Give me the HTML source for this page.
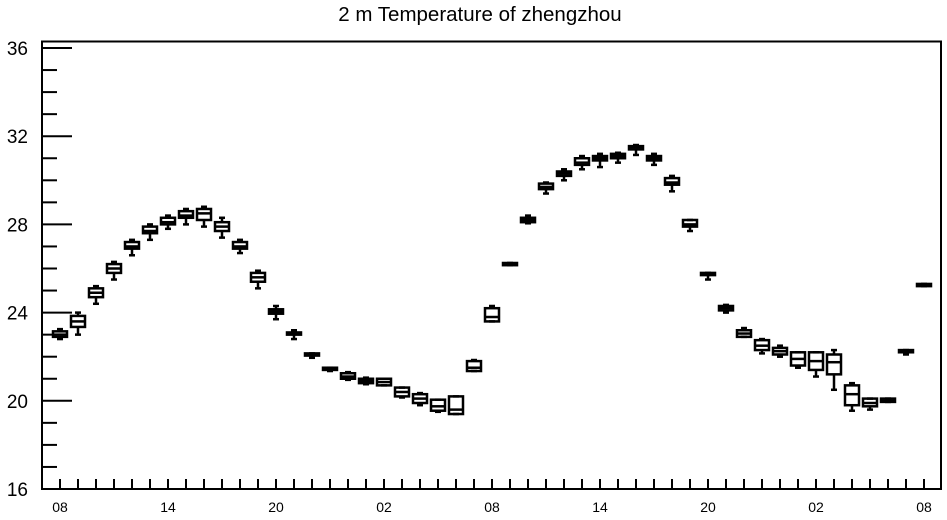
<!DOCTYPE html>
<html><head><meta charset="utf-8"><style>
html,body{margin:0;padding:0;background:#fff}
svg{display:block;font-family:"Liberation Sans",sans-serif}
</style></head><body>
<svg id="chart" width="947" height="520" viewBox="0 0 947 520">
<text x="480" y="21" text-anchor="middle" font-size="20.5">2 m Temperature of zhengzhou</text>
<rect x="42" y="41.5" width="899" height="447.5" fill="none" stroke="#000" stroke-width="2"/>
<g id="axes"></g>
<g id="boxes"></g>
</svg>
<script>
const medians=[23.0,23.6,24.9,26.0,27.0,27.7,28.1,28.4,28.5,27.9,27.0,25.6,24.05,23.05,22.1,21.45,21.1,20.9,20.85,20.4,20.1,19.75,19.6,21.5,23.8,26.2,28.2,29.7,30.3,30.8,31.0,31.1,31.5,31.0,29.9,28.0,25.75,24.2,23.05,22.5,22.25,21.9,21.8,21.75,20.3,19.9,20.0,22.25,25.25];
const q1s=[22.9,23.35,24.7,25.8,26.9,27.6,28.0,28.3,28.2,27.7,26.9,25.4,23.95,23.0,22.05,21.4,21.0,20.8,20.7,20.2,19.9,19.55,19.4,21.35,23.6,26.15,28.1,29.6,30.2,30.7,30.9,31.0,31.4,30.9,29.8,27.9,25.7,24.1,22.9,22.3,22.1,21.6,21.4,21.2,19.8,19.75,19.95,22.2,25.2];
const q3s=[23.15,23.85,25.1,26.2,27.2,27.9,28.3,28.6,28.7,28.1,27.2,25.8,24.15,23.1,22.15,21.5,21.25,21.0,21.0,20.6,20.3,20.05,20.2,21.8,24.2,26.25,28.3,29.85,30.4,31.0,31.1,31.2,31.55,31.1,30.1,28.2,25.8,24.3,23.2,22.75,22.4,22.2,22.2,22.1,20.7,20.1,20.1,22.3,25.3];
const mins=[22.8,23.0,24.4,25.5,26.6,27.3,27.8,28.0,27.9,27.4,26.7,25.1,23.7,22.8,21.95,21.35,20.95,20.75,20.7,20.15,19.8,19.5,19.4,21.35,23.6,26.15,28.05,29.4,30.0,30.5,30.6,30.8,31.15,30.7,29.5,27.7,25.5,24.0,22.9,22.15,22.0,21.5,21.1,20.5,19.55,19.6,19.95,22.1,25.2];
const maxs=[23.25,24.0,25.2,26.3,27.3,28.0,28.4,28.7,28.8,28.3,27.3,25.9,24.3,23.2,22.15,21.5,21.3,21.05,21.0,20.6,20.35,20.05,20.2,21.85,24.3,26.25,28.4,29.9,30.5,31.1,31.2,31.25,31.6,31.2,30.2,28.2,25.8,24.35,23.3,22.8,22.5,22.2,22.2,22.3,20.8,20.1,20.1,22.3,25.3];
const yTicks=[16,20,24,28,32,36];
const xLabels=["08","14","20","02","08","14","20","02","08"];
const NS="http://www.w3.org/2000/svg";
function y(v){return 489-(v-16)*22.05;}
function x(i){return 60+i*18;}
function mk(tag,attrs,parent){const e=document.createElementNS(NS,tag);for(const k in attrs)e.setAttribute(k,attrs[k]);parent.appendChild(e);return e;}
const ax=document.getElementById('axes'),bx=document.getElementById('boxes');
for(let v=16;v<=36;v++){
 const major=yTicks.includes(v);
 const t=mk('line',{x1:42,x2:major?72:57,y1:y(v),y2:y(v),stroke:'#000','stroke-width':2},ax);
 
 
}
yTicks.forEach(v=>{
 const t=mk('text',{x:28,y:y(v)+7,'text-anchor':'end','font-size':19},ax);
 t.textContent=v;
 
 
});
for(let i=0;i<medians.length;i++){
 const t=mk('line',{x1:x(i),x2:x(i),y1:479,y2:489,stroke:'#000','stroke-width':2},ax);
 
 
}
xLabels.forEach((l,j)=>{
 const t=mk('text',{x:x(j*6),y:512,'text-anchor':'middle','font-size':14},ax);
 t.textContent=l;
 
 
});
for(let i=0;i<medians.length;i++){
 const g=mk('g',{stroke:'#000','stroke-width':2.5,fill:'none'},bx);
 
 
 const cx=x(i);
 mk('line',{x1:cx,x2:cx,y1:y(maxs[i]),y2:y(q3s[i])},g);
 mk('line',{x1:cx,x2:cx,y1:y(q1s[i]),y2:y(mins[i])},g);
 mk('line',{x1:cx-3,x2:cx+3,y1:y(maxs[i]),y2:y(maxs[i])},g);
 mk('line',{x1:cx-3,x2:cx+3,y1:y(mins[i]),y2:y(mins[i])},g);
 mk('rect',{x:cx-7,y:y(q3s[i]),width:14,height:Math.max(1,y(q1s[i])-y(q3s[i]))},g);
 mk('line',{x1:cx-7,x2:cx+7,y1:y(medians[i]),y2:y(medians[i])},g);
}
</script>
</body></html>
